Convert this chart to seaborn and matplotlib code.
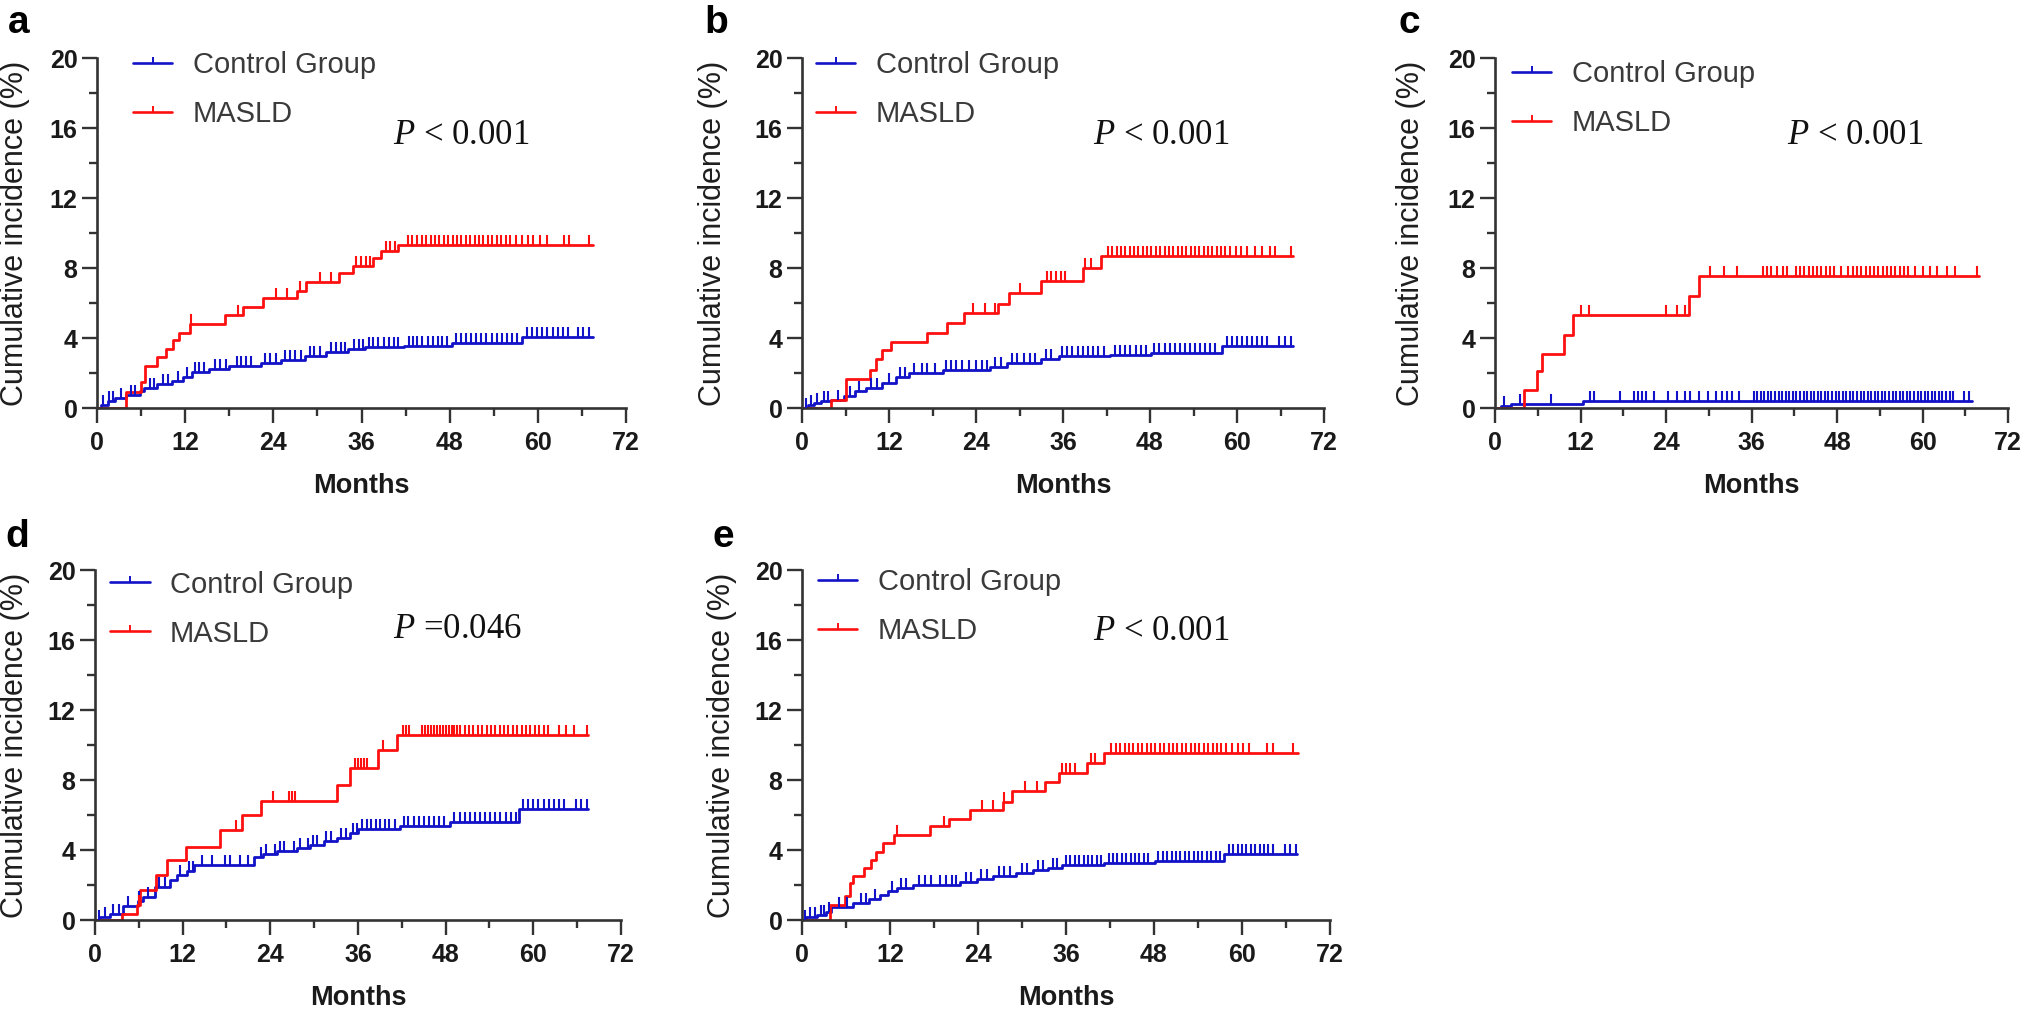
import numpy as np
import matplotlib
matplotlib.use("Agg")
import matplotlib.pyplot as plt
import seaborn as sns
from matplotlib.lines import Line2D
from matplotlib.ticker import MultipleLocator

sns.set_theme(style="ticks")
plt.rcParams['font.family'] = ['Liberation Sans', 'DejaVu Sans']
plt.rcParams['mathtext.fontset'] = 'custom'
plt.rcParams['mathtext.it'] = 'Liberation Serif:italic'
plt.rcParams['mathtext.rm'] = 'Liberation Serif'

# ---------------- data ----------------
panel_letters = ["a", "b", "c", "d", "e"]
group_labels = ["Control Group", "MASLD"]
p_texts = [r"$P$ < 0.001", r"$P$ < 0.001", r"$P$ < 0.001", r"$P$ =0.046", r"$P$ < 0.001"]
x_ticks = [0, 12, 24, 36, 48, 60, 72]
y_ticks = [0, 4, 8, 12, 16, 20]

# panel a
a_ctrl_t = [0, 0.5, 1.5, 2.5, 4.0, 5.8, 6.4, 8.2, 10.2, 11.7, 12.9, 15.2, 18.0, 22.3, 25.0, 28.3, 31.2, 34.2, 36.5, 41.8, 48.3, 57.8, 67.5]
a_ctrl_v = [0, 0.2, 0.4, 0.55, 0.75, 0.95, 1.15, 1.35, 1.55, 1.8, 2.05, 2.25, 2.4, 2.55, 2.75, 3.0, 3.2, 3.4, 3.5, 3.55, 3.7, 4.05, 4.05]
a_ctrl_c = [0.8, 1.6, 2.2, 3.2, 4.6, 5.2, 7.2, 7.8, 9.0, 9.6, 11.0, 12.2, 13.4, 13.9, 14.5, 16.0, 16.8, 17.5, 19.0, 19.6, 20.3, 21.0,
            22.8, 23.5, 24.4, 25.6, 26.3, 27.0, 27.8, 29.0, 29.6, 30.4, 31.8, 32.5, 33.2, 33.8, 35.0, 35.6, 36.2, 37.0, 37.6,
            38.3, 39.0, 39.7, 40.4, 41.0, 42.4, 43.0, 43.6, 44.3, 45.0, 45.7, 46.4, 47.0, 47.7, 48.8, 49.5, 50.2, 50.9, 51.6,
            52.3, 53.0, 53.7, 54.4, 55.1, 55.8, 56.5, 57.2, 58.5, 59.2, 59.9, 60.6, 61.3, 62.0, 62.7, 63.4, 64.1, 65.5, 66.2, 67.0]
a_masld_t = [0, 4.0, 6.0, 6.6, 8.2, 9.4, 10.4, 11.2, 12.6, 17.4, 19.9, 22.6, 27.2, 28.4, 33.0, 34.8, 37.6, 38.6, 41.0, 67.5]
a_masld_v = [0, 0.9, 1.5, 2.4, 2.9, 3.4, 3.9, 4.3, 4.8, 5.3, 5.8, 6.3, 6.7, 7.2, 7.7, 8.1, 8.6, 9.0, 9.3, 9.3]
a_masld_c = [12.8, 19.2, 24.3, 25.8, 27.6, 30.4, 31.8, 35.3, 35.9, 36.6, 37.2, 39.3, 39.9, 40.5, 42.3, 42.9, 43.6, 44.2, 44.8,
             45.4, 46.0, 46.6, 47.2, 47.8, 48.4, 49.0, 49.6, 50.2, 50.8, 51.4, 52.0, 52.6, 53.2, 53.8, 54.4, 55.0, 55.6, 56.2,
             57.0, 57.8, 58.6, 59.4, 60.3, 61.2, 63.6, 64.3, 66.9]

# panel b
b_ctrl_t = [0, 0.8, 1.7, 2.6, 4.0, 5.8, 7.3, 8.8, 11.1, 12.9, 14.7, 19.4, 25.9, 28.3, 33.0, 35.4, 42.5, 48.1, 57.9, 67.7]
b_ctrl_v = [0, 0.15, 0.3, 0.38, 0.45, 0.7, 0.95, 1.15, 1.45, 1.8, 2.0, 2.15, 2.35, 2.6, 2.8, 3.0, 3.05, 3.15, 3.55, 3.55]
b_ctrl_c = [0.6, 1.3, 2.1, 3.0, 3.6, 5.0, 6.6, 7.8, 9.5, 10.4, 12.0, 13.5, 14.2, 15.5, 16.5, 17.3, 18.4, 19.9, 20.6, 21.3,
            22.0, 23.0, 24.0, 24.8, 25.5, 26.6, 27.4, 28.9, 29.7, 30.6, 31.4, 32.2, 33.6, 34.4, 35.9, 36.6, 37.3, 38.0, 38.7,
            39.4, 40.1, 40.8, 41.6, 43.2, 43.9, 44.6, 45.3, 46.0, 46.7, 47.4, 48.6, 49.3, 50.0, 50.7, 51.4, 52.1, 52.8, 53.5,
            54.2, 54.9, 55.6, 56.3, 57.0, 58.6, 59.3, 60.0, 60.7, 61.4, 62.1, 62.8, 63.5, 64.2, 65.8, 66.6, 67.4]
b_masld_t = [0, 4.0, 6.1, 9.35, 10.2, 11.0, 12.3, 17.3, 20.0, 22.4, 27.1, 28.6, 33.0, 38.7, 41.3, 67.7]
b_masld_v = [0, 0.45, 1.65, 2.2, 2.8, 3.3, 3.75, 4.3, 4.85, 5.45, 5.95, 6.6, 7.25, 8.0, 8.7, 8.7]
b_masld_c = [23.6, 25.2, 26.6, 30.1, 33.8, 34.4, 35.0, 35.7, 36.3, 39.1, 39.8, 42.2, 42.8, 43.4, 44.0, 44.6, 45.2, 45.8, 46.4,
             47.0, 47.6, 48.2, 48.8, 49.4, 50.0, 50.6, 51.2, 51.8, 52.4, 53.0, 53.6, 54.2, 54.8, 55.4, 56.0, 56.6, 57.2, 57.8,
             58.4, 59.0, 59.8, 60.6, 61.4, 62.5, 63.5, 64.5, 65.3, 67.4]

# panel c
c_ctrl_t = [0, 0.9, 2.3, 12.3, 67.0]
c_ctrl_v = [0, 0.1, 0.22, 0.42, 0.42]
c_ctrl_c = [1.2, 3.5, 7.8, 13.3, 13.9, 17.6, 19.5, 20.0, 20.6, 21.2, 22.3, 24.3, 25.6, 26.6, 27.3, 28.6, 29.9, 31.0, 31.8,
            32.6, 33.3, 34.2, 36.3, 36.8, 37.3, 37.8, 38.3, 38.8, 39.3, 39.8, 40.3, 40.8, 41.3, 41.8, 42.3, 42.8, 43.3, 43.8,
            44.3, 44.8, 45.3, 45.8, 46.3, 46.8, 47.3, 47.8, 48.3, 48.8, 49.3, 49.8, 50.3, 50.8, 51.3, 51.8, 52.3, 52.8, 53.3,
            53.8, 54.3, 54.8, 55.3, 55.8, 56.3, 56.8, 57.3, 57.8, 58.3, 58.8, 59.3, 59.8, 60.3, 60.8, 61.3, 61.8, 62.3, 62.8,
            63.3, 63.8, 64.3, 65.8, 66.5]
c_masld_t = [0, 4.0, 5.9, 6.6, 9.7, 10.9, 27.2, 28.7, 67.9]
c_masld_v = [0, 1.05, 2.1, 3.1, 4.2, 5.3, 6.4, 7.55, 7.55]
c_masld_c = [12.0, 13.2, 24.0, 25.5, 26.6, 30.2, 32.1, 34.0, 37.6, 38.2, 38.8, 39.6, 40.4, 41.0, 42.2, 42.8, 43.4, 44.0, 44.6,
             45.2, 45.8, 46.4, 47.0, 47.6, 48.6, 49.6, 50.2, 50.8, 51.4, 52.0, 52.6, 53.2, 53.8, 54.4, 55.0, 55.6, 56.2, 56.8,
             57.4, 58.0, 59.0, 60.0, 61.0, 62.0, 63.5, 64.5, 67.7]

# panel d
d_ctrl_t = [0, 0.7, 2.0, 3.9, 5.9, 6.6, 8.2, 10.3, 11.2, 12.6, 13.5, 21.7, 23.0, 24.9, 27.6, 29.4, 31.3, 33.1, 34.9, 36.0, 41.7, 48.6, 58.0, 67.5]
d_ctrl_v = [0, 0.15, 0.35, 0.82, 1.1, 1.3, 1.9, 2.3, 2.55, 2.8, 3.15, 3.6, 3.8, 3.95, 4.1, 4.3, 4.5, 4.7, 5.0, 5.2, 5.4, 5.6, 6.35, 6.35]
d_ctrl_c = [0.5, 1.4, 2.4, 3.3, 4.5, 6.0, 7.3, 8.8, 9.6, 11.6, 12.9, 13.4, 14.6, 16.0, 17.8, 18.5, 19.8, 21.0, 22.7, 23.4,
            24.6, 25.3, 25.9, 27.2, 28.0, 29.2, 29.8, 30.4, 31.6, 32.3, 33.7, 34.3, 35.3, 35.8, 36.6, 37.2, 37.8, 38.4, 39.0,
            39.7, 40.3, 41.0, 42.3, 42.9, 43.6, 44.3, 45.0, 45.7, 46.4, 47.1, 47.8, 49.2, 49.9, 50.6, 51.3, 52.0, 52.7, 53.4,
            54.1, 54.8, 55.5, 56.2, 56.9, 57.6, 58.6, 59.3, 60.0, 60.7, 61.4, 62.1, 62.8, 63.5, 64.2, 65.8, 66.5, 67.3]
d_masld_t = [0, 3.65, 5.7, 6.2, 8.4, 9.8, 12.4, 17.1, 20.1, 22.7, 33.1, 34.9, 38.8, 41.3, 67.5]
d_masld_v = [0, 0.35, 0.85, 1.7, 2.55, 3.45, 4.2, 5.15, 6.0, 6.8, 7.7, 8.7, 9.7, 10.6, 10.6]
d_masld_c = [6.0, 19.3, 24.3, 26.6, 27.0, 27.4, 35.6, 36.0, 36.4, 36.8, 37.2, 39.4, 42.2, 42.6, 43.0, 44.8, 45.2, 45.6, 46.0,
             46.4, 46.8, 47.2, 47.6, 48.0, 48.4, 48.8, 49.2, 49.6, 50.0, 50.6, 51.2, 51.8, 52.4, 53.0, 53.6, 54.2, 54.8, 55.4,
             56.0, 56.6, 57.2, 57.8, 58.4, 59.0, 59.6, 60.2, 60.8, 61.4, 62.0, 63.5, 64.5, 65.5, 67.3]

# panel e
e_ctrl_t = [0, 0.6, 2.0, 3.3, 4.0, 7.0, 9.2, 10.6, 11.7, 12.9, 15.1, 21.5, 23.8, 26.0, 29.2, 31.5, 33.6, 35.4, 41.2, 48.1, 57.6, 67.5]
e_ctrl_v = [0, 0.2, 0.3, 0.48, 0.76, 0.95, 1.2, 1.45, 1.65, 1.85, 2.0, 2.2, 2.35, 2.5, 2.7, 2.85, 3.0, 3.15, 3.25, 3.4, 3.75, 3.75]
e_ctrl_c = [0.4, 1.1, 1.8, 2.6, 3.0, 3.7, 5.0, 6.2, 8.0, 8.7, 10.0, 12.3, 13.5, 14.2, 16.0, 16.8, 17.6, 18.8, 19.6, 20.4,
            21.0, 22.4, 23.0, 24.4, 25.2, 26.8, 27.5, 28.3, 30.0, 30.7, 32.2, 32.9, 34.2, 34.8, 36.0, 36.6, 37.2, 37.8, 38.4,
            39.0, 39.6, 40.2, 40.8, 41.8, 42.4, 43.0, 43.6, 44.2, 44.8, 45.4, 46.0, 46.6, 47.2, 48.6, 49.2, 49.8, 50.4, 51.0,
            51.6, 52.2, 52.8, 53.4, 54.0, 54.6, 55.2, 55.8, 56.4, 57.0, 58.2, 58.8, 59.4, 60.0, 60.6, 61.2, 61.8, 62.4, 63.0,
            63.6, 64.2, 65.8, 66.6, 67.3]
e_masld_t = [0, 3.8, 5.8, 6.5, 7.0, 8.5, 9.45, 10.1, 11.0, 12.6, 17.4, 20.1, 22.9, 27.4, 28.6, 33.1, 35.0, 38.9, 41.2, 67.7]
e_masld_v = [0, 0.85, 1.35, 2.1, 2.5, 2.95, 3.45, 3.9, 4.4, 4.85, 5.35, 5.8, 6.3, 6.75, 7.4, 7.9, 8.4, 9.0, 9.55, 9.55]
e_masld_c = [12.9, 19.4, 24.5, 26.0, 27.6, 30.4, 32.0, 35.4, 36.0, 36.6, 37.2, 39.4, 40.0, 42.2, 42.8, 43.4, 44.0, 44.6, 45.2,
             45.8, 46.4, 47.0, 47.6, 48.2, 48.8, 49.4, 50.0, 50.6, 51.2, 51.8, 52.4, 53.0, 53.6, 54.2, 54.8, 55.4, 56.0, 56.6,
             57.2, 57.8, 58.6, 59.4, 60.2, 61.0, 63.4, 64.2, 66.9]

# ---------------- style / layout ----------------
BLUE = "#1212c8"
RED = "#ff1010"
AX_COL = "#333333"
FIG_W, FIG_H = 2029, 1010

# axes boxes in pixels: (x of month 0, x of month 72, y of value 0, y of value 20)
boxes = [(97, 626, 408, 58), (802, 1324, 408, 58), (1495, 2008, 408, 58),
         (95, 621, 920, 570), (802, 1330, 920, 570)]
letter_pos = [(8, 33), (704, 33), (1399, 33), (5, 547), (713, 547)]
legend_anchor = [(0.068, 1.020), (0.027, 1.020), (0.033, 0.995), (0.029, 0.998), (0.030, 1.006)]
ylabel_x = [-0.127, -0.141, -0.134, -0.124, -0.123]
p_pos = [(40.3, 15.6), (40.2, 15.6), (41.0, 15.6), (40.8, 16.6), (39.7, 16.5)]

panels = [
    (a_ctrl_t, a_ctrl_v, a_ctrl_c, a_masld_t, a_masld_v, a_masld_c),
    (b_ctrl_t, b_ctrl_v, b_ctrl_c, b_masld_t, b_masld_v, b_masld_c),
    (c_ctrl_t, c_ctrl_v, c_ctrl_c, c_masld_t, c_masld_v, c_masld_c),
    (d_ctrl_t, d_ctrl_v, d_ctrl_c, d_masld_t, d_masld_v, d_masld_c),
    (e_ctrl_t, e_ctrl_v, e_ctrl_c, e_masld_t, e_masld_v, e_masld_c),
]


def step_at(t, v, c):
    t = np.asarray(t); v = np.asarray(v); c = np.asarray(c)
    idx = np.searchsorted(t, c, side="right") - 1
    return v[np.clip(idx, 0, len(v) - 1)]


fig = plt.figure(figsize=(FIG_W / 100, FIG_H / 100), dpi=100)
fig.patch.set_facecolor("white")

for i, (ct, cv, cc, mt, mv, mc) in enumerate(panels):
    x0, x1, y0, y1 = boxes[i]
    ax = fig.add_axes([x0 / FIG_W, 1 - y0 / FIG_H, (x1 - x0) / FIG_W, (y0 - y1) / FIG_H])
    ax.set_facecolor("white")
    for t, v, c, col in ((ct, cv, cc, BLUE), (mt, mv, mc, RED)):
        sns.lineplot(x=t, y=v, ax=ax, color=col, lw=2.0, drawstyle="steps-post",
                     estimator=None, sort=False, legend=False)
        sns.scatterplot(x=c, y=step_at(t, v, c), ax=ax, marker=2, s=50, linewidth=1.5,
                        color=col, legend=False, zorder=3)
    ax.set_xlim(0, 72)
    ax.set_ylim(0, 20)
    ax.set_xticks(x_ticks)
    ax.set_yticks(y_ticks)
    ax.xaxis.set_minor_locator(MultipleLocator(6))
    ax.yaxis.set_minor_locator(MultipleLocator(2))
    ax.tick_params(which="major", length=10.5, width=1.7, color=AX_COL,
                   labelsize=18, labelcolor="#1a1a1a")
    ax.tick_params(axis="x", which="major", pad=6)
    ax.tick_params(axis="y", which="major", pad=3.5)
    ax.tick_params(which="minor", length=5.5, width=1.7, color=AX_COL)
    for lab in ax.get_xticklabels() + ax.get_yticklabels():
        lab.set_fontweight("bold")
    sns.despine(ax=ax)
    for s in ("left", "bottom"):
        ax.spines[s].set_linewidth(1.9)
        ax.spines[s].set_color(AX_COL)
    ax.set_xlabel("Months", fontsize=19.5, fontweight="bold", labelpad=13, color="#1a1a1a")
    ax.set_ylabel("Cumulative incidence (%)", fontsize=22, color="#1e1e1e")
    ax.yaxis.set_label_coords(ylabel_x[i], 0.5)

    handles = [Line2D([], [], color=BLUE, lw=1.9, marker=2, markersize=4.5, markeredgewidth=1.4),
               Line2D([], [], color=RED, lw=1.9, marker=2, markersize=4.5, markeredgewidth=1.4)]
    ax.legend(handles, group_labels, loc="upper left", bbox_to_anchor=legend_anchor[i],
              frameon=False, borderpad=0, borderaxespad=0, handlelength=1.35,
              handletextpad=0.7, labelspacing=0.72, fontsize=21, labelcolor="#3a3a3a")

    ax.text(p_pos[i][0], p_pos[i][1], p_texts[i], ha="left", va="center",
            fontsize=25, family="Liberation Serif", color="#111111")

    lx, ly = letter_pos[i]
    fig.text(lx / FIG_W, 1 - ly / FIG_H, panel_letters[i], fontsize=28, fontweight="bold",
             ha="left", va="baseline", color="black")

fig.savefig("out.png", dpi=100, facecolor="white")
